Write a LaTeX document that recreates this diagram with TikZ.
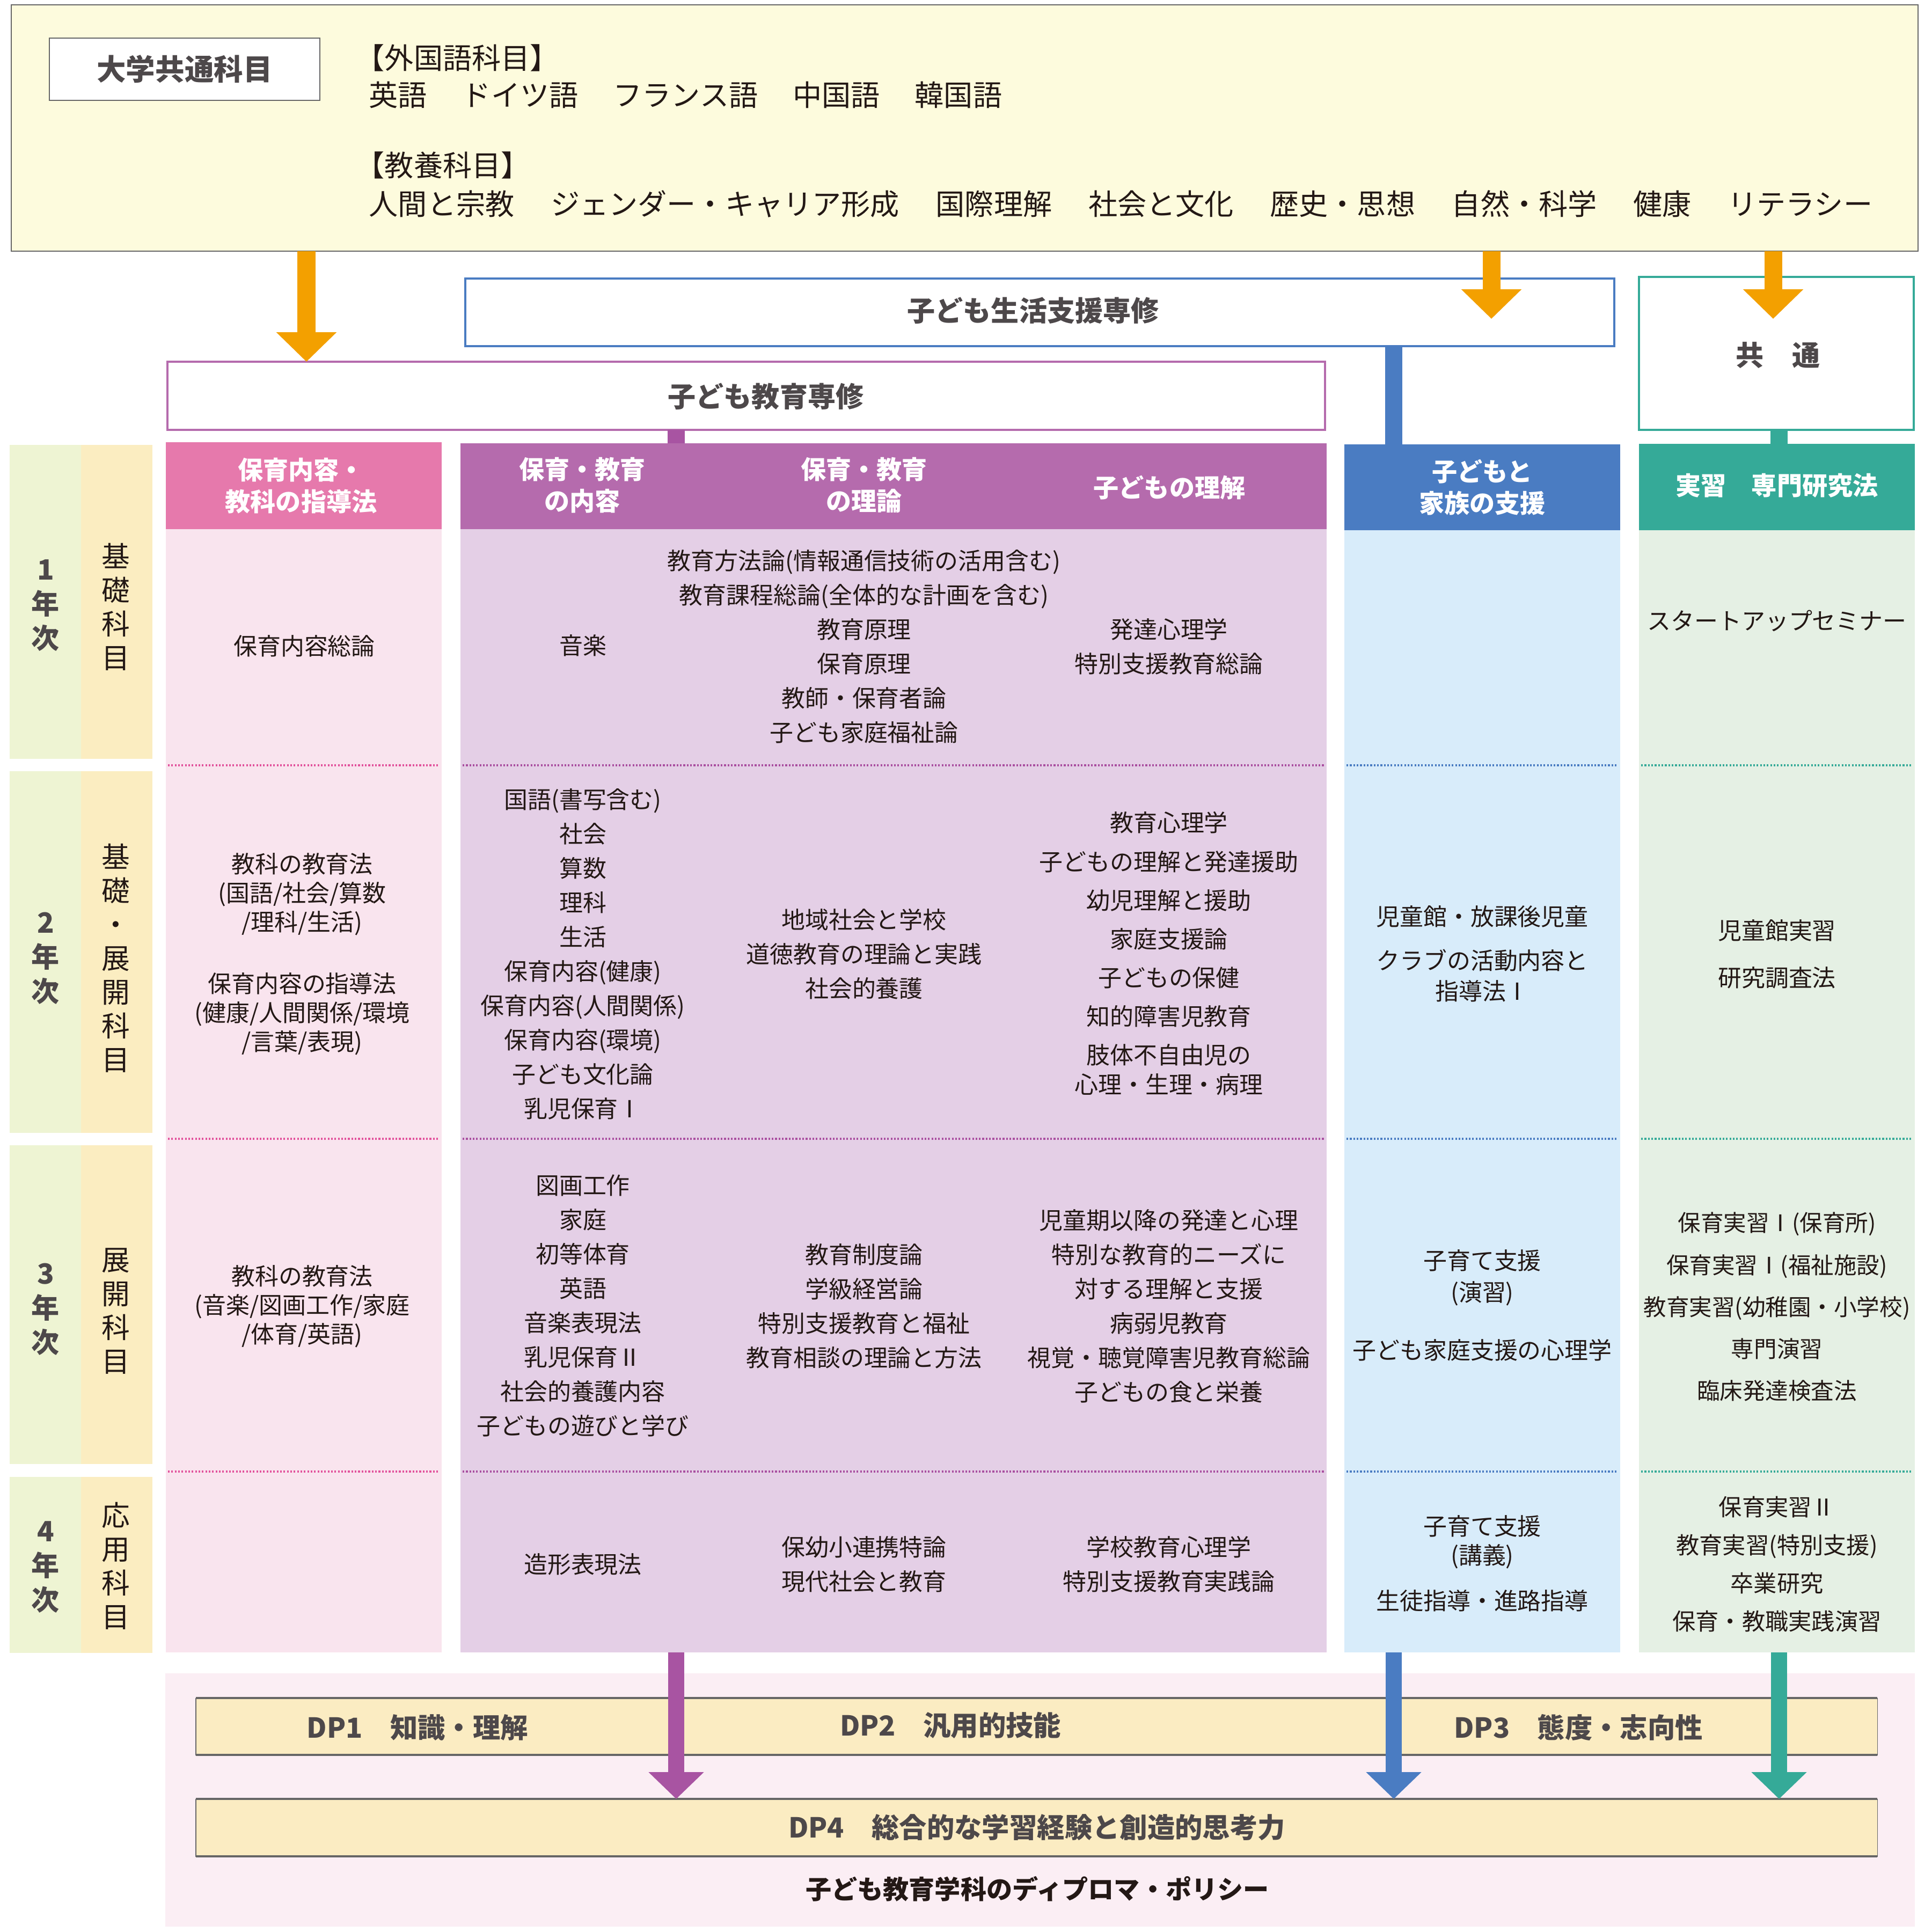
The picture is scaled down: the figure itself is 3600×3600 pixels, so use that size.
\documentclass[tikz,border=0pt]{standalone}
\usepackage{fontspec}
\setmainfont{Noto Sans CJK JP}
\usetikzlibrary{arrows.meta}
\definecolor{cCream}{RGB}{253,251,221}
\definecolor{cGray}{RGB}{102,102,102}
\definecolor{cOrange}{RGB}{243,160,0}
\definecolor{cBlue}{RGB}{74,124,194}
\definecolor{cPur}{RGB}{181,107,173}
\definecolor{cPurD}{RGB}{168,84,162}
\definecolor{cPink}{RGB}{230,121,172}
\definecolor{cPinkL}{RGB}{249,228,238}
\definecolor{cPurL}{RGB}{228,207,230}
\definecolor{cBlueL}{RGB}{216,236,250}
\definecolor{cTeal}{RGB}{53,170,152}
\definecolor{cTealL}{RGB}{229,240,228}
\definecolor{cYGreen}{RGB}{238,244,211}
\definecolor{cYBeige}{RGB}{251,237,193}
\definecolor{cDP}{RGB}{251,236,194}
\definecolor{cBotBg}{RGB}{251,238,244}
\definecolor{cPinkD}{RGB}{226,82,156}
\definecolor{cPurDot}{RGB}{169,79,160}
\definecolor{cText}{RGB}{35,24,21}
\definecolor{cTitle}{RGB}{77,72,74}
\newcommand\ftop{\fontsize{15.4pt}{18pt}\selectfont}
\newcommand\fbody{\fontsize{12.5pt}{18.2pt}\selectfont}
\newcommand\fpink{\fontsize{12.5pt}{15.4pt}\selectfont}
\newcommand\fhead{\fontsize{13.4pt}{16.8pt}\selectfont}
\newcommand\ftitle{\fontsize{14.8pt}{18pt}\selectfont}
\newcommand\fyear{\fontsize{14.8pt}{18.2pt}\selectfont}
\newcommand\fysub{\fontsize{15pt}{17.9pt}\selectfont}
\newcommand\fdp{\fontsize{14.6pt}{17pt}\selectfont}
\newcommand\rbox[6]{\node[inner sep=0pt,outer sep=0pt,anchor=north west,minimum width={(#4-#2)*0.01cm},minimum height={(#5-#3)*0.01cm},#6] (#1) at (#2,#3) {};}
\begin{document}
\begin{tikzpicture}[x=0.01cm,y=-0.01cm,
  bt/.style={inner sep=0pt,align=center,text=cText,font=\fbody},
  pt/.style={inner sep=0pt,align=center,text=cText,font=\fpink},
  hd/.style={inner sep=0pt,align=center,text=white,font=\fhead\bfseries},
  tl/.style={inner sep=0pt,align=center,text=cTitle,font=\ftitle\bfseries},
  yn/.style={inner sep=0pt,align=center,text=cTitle,font=\fyear\bfseries},
  ys/.style={inner sep=0pt,align=center,text=cText,font=\fysub},
  tp/.style={inner sep=0pt,anchor=west,text=cText,font=\ftop},
  dpt/.style={inner sep=0pt,text=cTitle,font=\fdp\bfseries},
  dots/.style={line width=1pt,dash pattern=on 0.9pt off 0.9pt},
  oarr/.style={draw=cOrange,line width=9.4pt,-{Triangle[width=31pt,length=15.6pt]}},
  barr/.style={line width=8.5pt,-{Triangle[width=28.5pt,length=14.2pt]}},
  stub/.style={line width=9pt}]
\useasboundingbox (0,0) rectangle (3600,3600);
\fill[white] (0,0) rectangle (3600,3600);

% top common subjects box
\rbox{top}{21}{9}{3574}{468}{fill=cCream,draw=cGray,line width=0.8pt}
\rbox{dk}{92}{71}{596}{187}{fill=white,draw=cGray,line width=0.6pt}
\node[tl,font=\fontsize{15.5pt}{18pt}\selectfont\bfseries] (dkt) at (344,129) {大学共通科目};
\node[tp] (gk1) at (662,108) {【外国語科目】};
\node[tp] (gk2) at (687,177) {英語\hspace{1.2em}ドイツ語\hspace{1.2em}フランス語\hspace{1.2em}中国語\hspace{1.2em}韓国語};
\node[tp] (ky1) at (662,308) {【教養科目】};
\node[tp] (ky2) at (687,380) {人間と宗教\hspace{1.25em}ジェンダー・キャリア形成\hspace{1.25em}国際理解\hspace{1.25em}社会と文化\hspace{1.25em}歴史・思想\hspace{1.25em}自然・科学\hspace{1.25em}健康\hspace{1.25em}リテラシー};

% course boxes
\rbox{seikatsu}{867}{519}{3008}{645}{fill=white,draw=cBlue,line width=1.1pt}
\node[tl] (seikatsut) at (1925,579) {子ども生活支援専修};
\rbox{kyoiku}{312}{674}{2469}{801}{fill=white,draw=cPur,line width=1pt}
\node[tl] (kyoikut) at (1427,739) {子ども教育専修};
\rbox{kyotsu}{3054}{516}{3566}{801}{fill=white,draw=cTeal,line width=1pt}
\node[tl] (kyotsut) at (3313,662) {共　通};

% year label columns
\rbox{yg1}{18}{829}{151}{1414}{fill=cYGreen}
\rbox{yb1}{151}{829}{284}{1414}{fill=cYBeige}
\rbox{yg2}{18}{1437}{151}{2111}{fill=cYGreen}
\rbox{yb2}{151}{1437}{284}{2111}{fill=cYBeige}
\rbox{yg3}{18}{2134}{151}{2728}{fill=cYGreen}
\rbox{yb3}{151}{2134}{284}{2728}{fill=cYBeige}
\rbox{yg4}{18}{2752}{151}{3080}{fill=cYGreen}
\rbox{yb4}{151}{2752}{284}{3080}{fill=cYBeige}
\node[yn] (y1n) at (85,1128) {1\\年\\次};
\node[ys] (y1s) at (216,1131) {基\\礎\\科\\目};
\node[yn] (y2n) at (85,1786) {2\\年\\次};
\node[ys] (y2s) at (216,1785) {基\\礎\\・\\展\\開\\科\\目};
\node[yn] (y3n) at (85,2440) {3\\年\\次};
\node[ys] (y3s) at (216,2443) {展\\開\\科\\目};
\node[yn] (y4n) at (85,2920) {4\\年\\次};
\node[ys] (y4s) at (216,2918) {応\\用\\科\\目};

% headers and bodies
\rbox{pinkH}{309}{824}{823}{986}{fill=cPink}
\rbox{pinkB}{309}{986}{823}{3079}{fill=cPinkL}
\rbox{purpH}{858}{826}{2472}{986}{fill=cPur}
\rbox{purpB}{858}{986}{2472}{3079}{fill=cPurL}
\rbox{blueH}{2505}{828}{3019}{988}{fill=cBlue}
\rbox{blueB}{2505}{988}{3019}{3079}{fill=cBlueL}
\rbox{tealH}{3054}{827}{3568}{988}{fill=cTeal}
\rbox{tealB}{3054}{988}{3568}{3079}{fill=cTealL}

\node[hd] (hpink) at (561,905) {保育内容・\\教科の指導法};
\node[hd] (hpa) at (1085,904) {保育・教育\\の内容};
\node[hd] (hpb) at (1610,904) {保育・教育\\の理論};
\node[hd] (hpc) at (2179,909) {子どもの理解};
\node[hd] (hblue) at (2762,908) {子どもと\\家族の支援};
\node[hd] (hteal) at (3311,905) {実習　専門研究法};

% dotted separators
\foreach \yy in {1426,2122,2742}{
  \draw[dots,cPinkD] (313,\yy) -- (819,\yy);
  \draw[dots,cPurDot] (862,\yy) -- (2468,\yy);
  \draw[dots,cBlue] (2509,\yy) -- (3015,\yy);
  \draw[dots,cTeal] (3058,\yy) -- (3564,\yy);
}

% pink column
\node[bt] (pk1) at (567,1204) {保育内容総論};
\node[pt] (pk2a) at (563,1666) {教科の教育法\\(国語/社会/算数\\/理科/生活)};
\node[pt] (pk2b) at (563,1889) {保育内容の指導法\\(健康/人間関係/環境\\/言葉/表現)};
\node[pt] (pk3) at (563,2434) {教科の教育法\\(音楽/図画工作/家庭\\/体育/英語)};

% purple column
\node[bt] (pa1) at (1086,1203) {音楽};
\node[bt] (pb1) at (1610,1205) {教育方法論(情報通信技術の活用含む)\\教育課程総論(全体的な計画を含む)\\教育原理\\保育原理\\教師・保育者論\\子ども家庭福祉論};
\node[bt] (pc1) at (2178,1205) {発達心理学\\特別支援教育総論};
\node[bt] (pa2) at (1086,1778) {国語(書写含む)\\社会\\算数\\理科\\生活\\保育内容(健康)\\保育内容(人間関係)\\保育内容(環境)\\子ども文化論\\乳児保育Ⅰ};
\node[bt] (pb2) at (1610,1778) {地域社会と学校\\道徳教育の理論と実践\\社会的養護};
\node[bt,font=\fontsize{12.5pt}{20.5pt}\selectfont] (pc2) at (2178,1777) {教育心理学\\子どもの理解と発達援助\\幼児理解と援助\\家庭支援論\\子どもの保健\\知的障害児教育\\肢体不自由児の\\[-4.8pt]心理・生理・病理};
\node[bt] (pa3) at (1086,2433) {図画工作\\家庭\\初等体育\\英語\\音楽表現法\\乳児保育Ⅱ\\社会的養護内容\\子どもの遊びと学び};
\node[bt] (pb3) at (1610,2434) {教育制度論\\学級経営論\\特別支援教育と福祉\\教育相談の理論と方法};
\node[bt] (pc3) at (2178,2434) {児童期以降の発達と心理\\特別な教育的ニーズに\\対する理解と支援\\病弱児教育\\視覚・聴覚障害児教育総論\\子どもの食と栄養};
\node[bt] (pa4) at (1086,2915) {造形表現法};
\node[bt] (pb4) at (1610,2915) {保幼小連携特論\\現代社会と教育};
\node[bt] (pc4) at (2178,2915) {学校教育心理学\\特別支援教育実践論};

% blue column
\node[bt] (bl2a) at (2762,1708) {児童館・放課後児童};
\node[bt,font=\fontsize{12.5pt}{16.2pt}\selectfont] (bl2b) at (2762,1818) {クラブの活動内容と\\指導法Ⅰ};
\node[bt,font=\fontsize{12.5pt}{16.8pt}\selectfont] (bl3a) at (2762,2381) {子育て支援\\(演習)};
\node[bt] (bl3b) at (2762,2516) {子ども家庭支援の心理学};
\node[bt,font=\fontsize{12.5pt}{15.4pt}\selectfont] (bl4a) at (2762,2873) {子育て支援\\(講義)};
\node[bt] (bl4b) at (2762,2983) {生徒指導・進路指導};

% teal column
\node[bt] (tl1) at (3311,1157) {スタートアップセミナー};
\node[bt,font=\fontsize{12.5pt}{25pt}\selectfont] (tl2) at (3311,1778) {児童館実習\\研究調査法};
\node[bt,font=\fontsize{12.1pt}{22.2pt}\selectfont] (tl3) at (3311,2435) {保育実習Ⅰ(保育所)\\保育実習Ⅰ(福祉施設)\\教育実習(幼稚園・小学校)\\専門演習\\臨床発達検査法};
\node[bt,font=\fontsize{12.3pt}{20.2pt}\selectfont] (tl4) at (3311,2915) {保育実習Ⅱ\\教育実習(特別支援)\\卒業研究\\保育・教職実践演習};

% diploma policy area
\rbox{botbg}{308}{3118}{3568}{3590}{fill=cBotBg}
\rbox{dp13}{365}{3164}{3498}{3270}{fill=cDP,draw=cGray,line width=0.3pt}
\draw[cGray,line width=0.9pt] (dp13.north west) -- (dp13.north east) (dp13.south west) -- (dp13.south east);
\rbox{dp4}{365}{3352}{3498}{3459}{fill=cDP,draw=cGray,line width=0.3pt}
\draw[cGray,line width=0.9pt] (dp4.north west) -- (dp4.north east) (dp4.south west) -- (dp4.south east);

% connectors
\coordinate (xA) at (571,0);
\draw[oarr] (top.south -| xA) -- (kyoiku.north -| xA);
\coordinate (a2e) at (2779,594);
\draw[oarr] (top.south -| a2e) -- (a2e);
\coordinate (a3e) at (3304,594);
\draw[oarr] (top.south -| a3e) -- (a3e);
\coordinate (xP) at (1260,0);
\coordinate (xB) at (2597,0);
\coordinate (xT) at (3315,0);
\draw[stub,cPurD] (kyoiku.south -| xP) -- (purpH.north -| xP);
\draw[stub,cBlue] (seikatsu.south -| xB) -- (blueH.north -| xB);
\draw[stub,cTeal] (kyotsu.south -| xT) -- (tealH.north -| xT);
\draw[barr,cPurD] (purpB.south -| xP) -- (dp4.north -| xP);
\draw[barr,cBlue] (blueB.south -| xB) -- (dp4.north -| xB);
\draw[barr,cTeal] (tealB.south -| xT) -- (dp4.north -| xT);

\node[dpt] (dp1t) at (778,3219) {DP1　知識・理解};
\node[dpt] (dp2t) at (1771,3215) {DP2　汎用的技能};
\node[dpt] (dp3t) at (2941,3219) {DP3　態度・志向性};
\node[dpt] (dp4t) at (1932,3405) {DP4　総合的な学習経験と創造的思考力};
\node[dpt,text=cText,font=\fontsize{13.7pt}{16pt}\selectfont\bfseries] (foot) at (1933,3520) {子ども教育学科のディプロマ・ポリシー};
\end{tikzpicture}
\end{document}
